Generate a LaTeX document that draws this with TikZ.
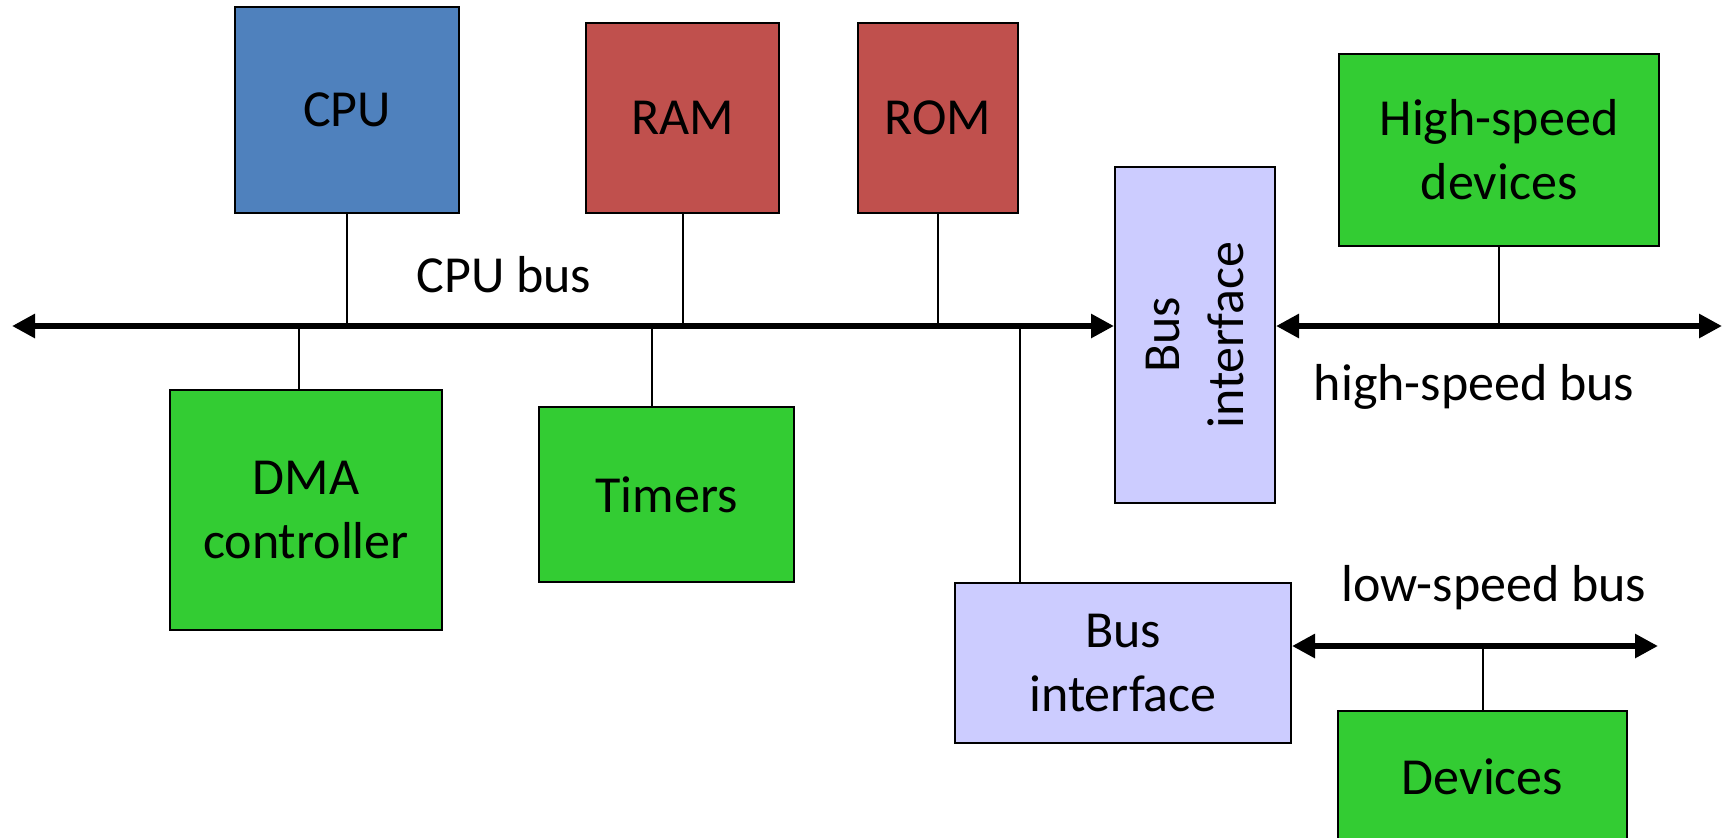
\documentclass[tikz,border=0pt]{standalone}
\usepackage{fontspec}
\setmainfont{Carlito}
\usetikzlibrary{arrows.meta}

\definecolor{cpublue}{HTML}{4F81BD}
\definecolor{memred}{HTML}{C0504D}
\definecolor{devgreen}{HTML}{33CC33}
\definecolor{iflav}{HTML}{CCCCFF}

\begin{document}
\begin{tikzpicture}[x=0.5pt, y=-0.5pt,
    box/.style={draw, line width=1pt, align=center, inner sep=0pt,
        font=\fontsize{26}{32}\selectfont},
    bus/.style={line width=3pt, {Triangle[length=11.5pt, width=11.5pt]}-{Triangle[length=11.5pt, width=11.5pt]}},
    tap/.style={line width=1pt},
    lbl/.style={font=\fontsize{26}{32}\selectfont}]
    \useasboundingbox (0, 0) rectangle (1725, 837);
    \clip (0, 0) rectangle (1725, 837);

    \node[box, fill=cpublue, minimum width=112pt, minimum height=103pt] (cpu) at (347, 110) {CPU};
    \node[box, fill=memred, minimum width=96.5pt, minimum height=95pt] (ram) at (682.5, 118) {RAM};
    \node[box, fill=memred, minimum width=80pt, minimum height=95pt] (rom) at (938, 118) {ROM};
    \node[box, fill=devgreen, minimum width=160pt, minimum height=96pt] (hsd) at (1499, 150) {High-speed\\devices};
    \node[box, fill=iflav, minimum width=168pt, minimum height=80pt, rotate=90] (bif1) at (1195, 335) {Bus\\interface};
    \node[box, fill=devgreen, minimum width=136pt, minimum height=120pt] (dma) at (306, 510) {DMA\\controller};
    \node[box, fill=devgreen, minimum width=127.5pt, minimum height=87.5pt] (tim) at (666.5, 494.5) {Timers};
    \node[box, fill=iflav, minimum width=168pt, minimum height=80pt] (bif2) at (1123, 663) {Bus\\interface};
    \node[box, fill=devgreen, minimum width=144.5pt, minimum height=66pt] (dev) at (1482.5, 777) {Devices};

    % buses
    \coordinate (busL) at (12, 326);
    \coordinate (hsEnd) at (1722, 326);
    \coordinate (lsEnd) at (1658, 646);
    \draw[bus] (busL) -- (busL -| bif1.north);
    \draw[bus] (bif1.south |- hsEnd) -- (hsEnd);
    \draw[bus] (bif2.east |- lsEnd) -- (lsEnd);

    \node[lbl] (cpubus) at (504, 275) {CPU bus};
    \node[lbl] (hsbus) at (1474, 387) {high-speed bus};
    \node[lbl] (lsbus) at (1494, 588) {low-speed bus};

    % taps onto the buses
    \draw[tap] (cpu.south) -- (cpu.south |- busL);
    \draw[tap] (ram.south) -- (ram.south |- busL);
    \draw[tap] (rom.south) -- (rom.south |- busL);
    \draw[tap] ([xshift=-3.5pt]dma.north) -- ([xshift=-3.5pt]dma.north |- busL);
    \draw[tap] ([xshift=-7.5pt]tim.north) -- ([xshift=-7.5pt]tim.north |- busL);
    \draw[tap] ([xshift=33pt]bif2.north west) -- ([xshift=33pt]bif2.north west |- busL);
    \draw[tap] (hsd.south) -- (hsd.south |- hsEnd);
    \draw[tap] (dev.north) -- (dev.north |- lsEnd);
\end{tikzpicture}
\end{document}
